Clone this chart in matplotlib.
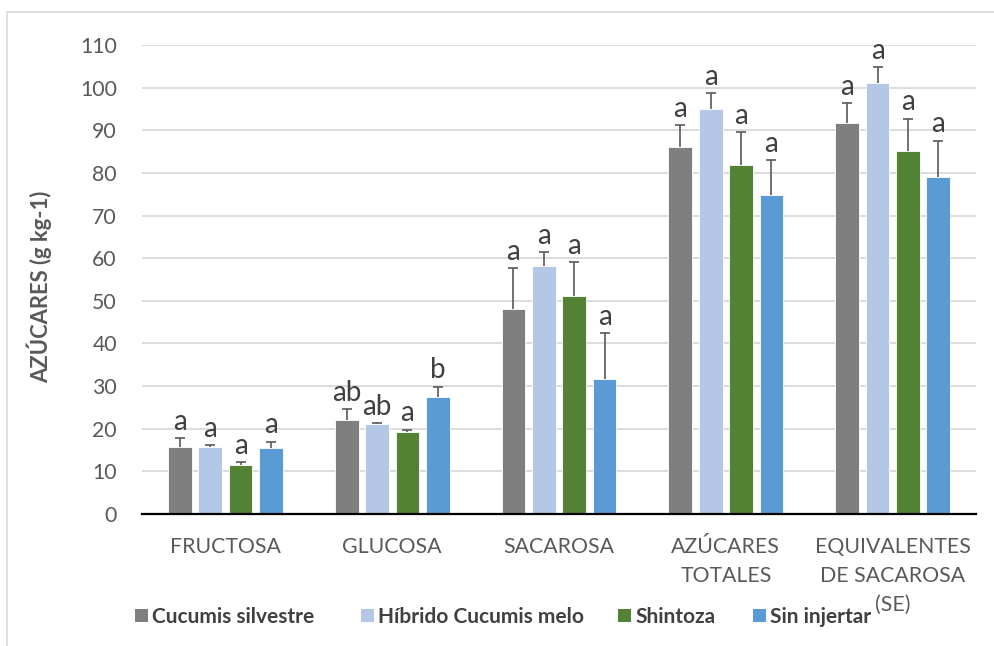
import matplotlib
matplotlib.use("Agg")
import matplotlib.pyplot as plt
from matplotlib.patches import Rectangle
import numpy as np

plt.rcParams['font.family'] = ['Lato', 'DejaVu Sans']

categories = ["FRUCTOSA", "GLUCOSA", "SACAROSA", "AZÚCARES\nTOTALES",
              "EQUIVALENTES\nDE SACAROSA\n(SE)"]
series_names = ["Cucumis silvestre", "Híbrido Cucumis melo", "Shintoza", "Sin injertar"]

cucumis_silvestre = [15.8, 22.0, 48.1, 86.0, 91.7]
hibrido_melo = [15.8, 21.0, 58.2, 95.0, 101.1]
shintoza = [11.5, 19.2, 51.1, 81.8, 85.2]
sin_injertar = [15.6, 27.5, 31.7, 74.8, 79.1]

err_silvestre = [2.0, 2.6, 9.5, 5.2, 4.6]
err_hibrido = [0.4, 0.3, 3.2, 3.7, 3.7]
err_shintoza = [0.7, 0.6, 7.9, 7.7, 7.5]
err_sin = [1.4, 2.4, 10.7, 8.2, 8.5]

letters_silvestre = ["a", "ab", "a", "a", "a"]
letters_hibrido = ["a", "ab", "a", "a", "a"]
letters_shintoza = ["a", "a", "a", "a", "a"]
letters_sin = ["a", "b", "a", "a", "a"]

y_ticks = list(range(0, 111, 10))

values = [cucumis_silvestre, hibrido_melo, shintoza, sin_injertar]
errors = [err_silvestre, err_hibrido, err_shintoza, err_sin]
letters = [letters_silvestre, letters_hibrido, letters_shintoza, letters_sin]
colors = ["#7F7F7F", "#B4C7E7", "#548235", "#5B9BD5"]

text_gray = "#595959"
W, H = 995, 646

fig = plt.figure(figsize=(W / 100, H / 100), dpi=100)
ax = fig.add_axes([0.1427, 0.2043, 0.8383, 0.7260])

# chart frame
fig.patches.append(Rectangle((7 / W, -0.1), 1.2, 1 - 12 / H + 0.1,
                             transform=fig.transFigure, fill=False,
                             edgecolor="#D9D9D9", linewidth=1.2))

x = np.arange(len(categories))
step = 0.182
width = 0.142
offsets = (np.arange(4) - 1.5) * step

for i in range(4):
    xs = x + offsets[i]
    vals = np.asarray(values[i])
    ax.bar(xs, vals, width=width, color=colors[i], edgecolor="white",
           linewidth=0.6, zorder=3, label=series_names[i])
    # plus-direction error bars only
    _, caps, _ = ax.errorbar(xs, vals, yerr=[np.zeros(len(xs)), errors[i]],
                             fmt="none", ecolor="#595959", elinewidth=1.2,
                             capsize=3.3, capthick=1.2, zorder=4)
    for cap in caps:
        if np.allclose(cap.get_ydata(), vals):
            cap.set_visible(False)
    for xi, v, e, lab in zip(xs, vals, errors[i], letters[i]):
        ax.annotate(lab, (xi, v + e), xytext=(0, 6), textcoords="offset points",
                    ha="center", va="baseline", fontsize=20, color="#404040",
                    zorder=5)

ax.set_xlim(-0.5, len(categories) - 0.5)
ax.set_ylim(0, 110)
ax.set_yticks(y_ticks)
ax.set_xticks(x)
ax.set_xticklabels(categories, linespacing=1.55)
ax.tick_params(axis="both", length=0, labelsize=15.3, colors=text_gray)
ax.tick_params(axis="y", pad=18)
ax.tick_params(axis="x", pad=16.5)

ax.grid(axis="y", color="#D9D9D9", linewidth=1.3, zorder=0)
ax.set_axisbelow(True)
for side in ["top", "right", "left"]:
    ax.spines[side].set_visible(False)
ax.spines["bottom"].set_color("black")
ax.spines["bottom"].set_linewidth(1.6)
ax.spines["bottom"].set_zorder(6)

fig.text(39 / W, 1 - 287 / H, "AZÚCARES (g kg-1)", rotation=90,
         ha="center", va="center", fontsize=15.8, fontweight="bold", color=text_gray)

# legend row: swatch + bold label for each series
legend_x = [135, 361, 618, 753]
legend_y = 615
swatch = 13
for lx, name, c in zip(legend_x, series_names, colors):
    fig.patches.append(Rectangle((lx / W, (H - legend_y - swatch / 2) / H),
                                 swatch / W, swatch / H,
                                 transform=fig.transFigure, facecolor=c,
                                 edgecolor="none"))
    fig.text((lx + swatch + 4) / W, 1 - legend_y / H, name, ha="left",
             va="center_baseline", fontsize=15, fontweight="bold",
             color="#404040")

fig.savefig("out.png", dpi=100, facecolor="white")
